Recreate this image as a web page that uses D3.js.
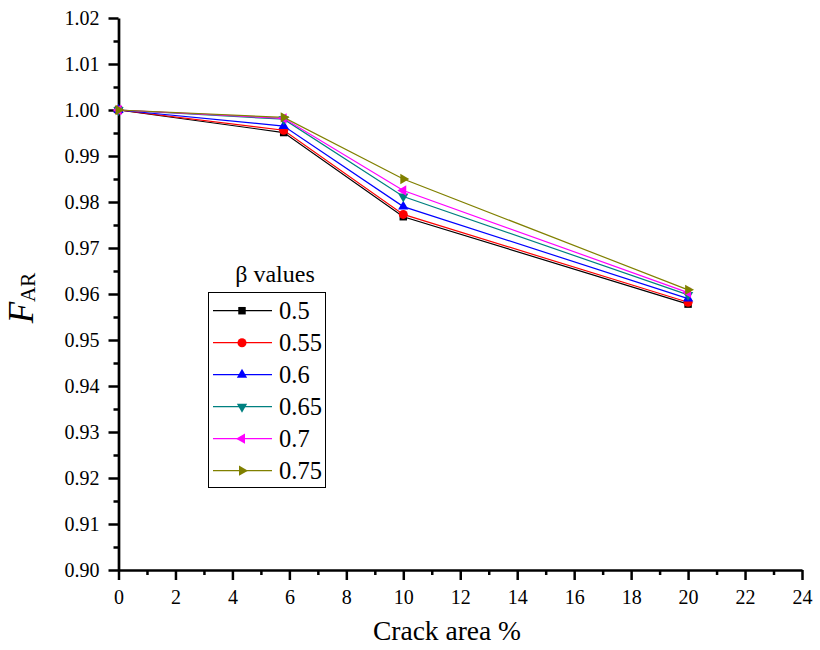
<!DOCTYPE html>
<html>
<head>
<meta charset="utf-8">
<script src="https://cdn.jsdelivr.net/npm/d3@7"></script>
<style>
  body { margin: 0; background: #fff; }
  svg { display: block; }
</style>
</head>
<body>
<svg id="chart" width="820" height="650"></svg>
<script>
// Crack area (%) sampled along the x axis
const crackArea = [0, 5.8, 10, 20];

// F_AR for each beta value
const beta050 = [1.0, 0.9951, 0.9768, 0.9578];
const beta055 = [1.0, 0.9956, 0.9773, 0.9582];
const beta060 = [1.0, 0.9965, 0.9790, 0.9590];
const beta065 = [1.0, 0.9980, 0.9812, 0.9598];
const beta070 = [1.0, 0.9982, 0.9825, 0.9603];
const beta075 = [1.0, 0.9984, 0.9850, 0.9609];

const betaLabels = ["0.5", "0.55", "0.6", "0.65", "0.7", "0.75"];
const xTicks = [0, 2, 4, 6, 8, 10, 12, 14, 16, 18, 20, 22, 24];
const yTicks = [0.90, 0.91, 0.92, 0.93, 0.94, 0.95, 0.96, 0.97, 0.98, 0.99, 1.00, 1.01, 1.02];

const FONT = '"Liberation Serif"';

const series = [
  { name: betaLabels[0], values: beta050, color: "#000000", symbol: d3.symbolSquare, rot: 0, size: 56 },
  { name: betaLabels[1], values: beta055, color: "#ff0000", symbol: d3.symbolCircle, rot: 0, size: 64 },
  { name: betaLabels[2], values: beta060, color: "#0000ff", symbol: d3.symbolTriangle, rot: 0, size: 46 },
  { name: betaLabels[3], values: beta065, color: "#008080", symbol: d3.symbolTriangle, rot: 180, size: 46 },
  { name: betaLabels[4], values: beta070, color: "#ff00ff", symbol: d3.symbolTriangle, rot: -90, size: 46 },
  { name: betaLabels[5], values: beta075, color: "#808000", symbol: d3.symbolTriangle, rot: 90, size: 46 }
];

const svg = d3.select("#chart");
const plotLeft = 118.5, plotRight = 802, plotTop = 18, plotBottom = 570;

const x = d3.scaleLinear().domain([0, 24]).range([plotLeft, plotRight]);
const y = d3.scaleLinear().domain([0.90, 1.02]).range([plotBottom, plotTop]);

// Minor ticks
const g = svg.append("g");
g.append("g")
  .attr("transform", `translate(0,${plotBottom})`)
  .call(d3.axisBottom(x).tickValues(d3.range(1, 24, 2)).tickSize(5).tickFormat(""))
  .call(a => a.select(".domain").remove())
  .call(a => a.selectAll("line").attr("stroke-width", 2.5));
g.append("g")
  .attr("transform", `translate(${plotLeft},0)`)
  .call(d3.axisLeft(y).tickValues(d3.range(0, 12).map(i => 0.905 + i * 0.01)).tickSize(5).tickFormat(""))
  .call(a => a.select(".domain").remove())
  .call(a => a.selectAll("line").attr("stroke-width", 2.5));

// Major axes
const xAxis = g.append("g")
  .attr("transform", `translate(0,${plotBottom})`)
  .call(d3.axisBottom(x).tickValues(xTicks).tickSize(10).tickSizeOuter(0).tickPadding(10).tickFormat(d3.format("d")));
const yAxis = g.append("g")
  .attr("transform", `translate(${plotLeft},0)`)
  .call(d3.axisLeft(y).tickValues(yTicks).tickSize(10).tickSizeOuter(0).tickPadding(9).tickFormat(d3.format(".2f")));

[xAxis, yAxis].forEach(a => {
  a.attr("font-family", null).attr("font-size", null);
  a.select(".domain").attr("stroke-width", 2.7);
  a.selectAll("line").attr("stroke-width", 2.5);
  a.selectAll("text").style("font-size", "20px").attr("fill", "#000");
});

// Data lines and markers
const line = d3.line().x((d, i) => x(crackArea[i])).y(d => y(d));
series.forEach(s => {
  svg.append("path")
    .attr("d", line(s.values))
    .attr("fill", "none")
    .attr("stroke", s.color)
    .attr("stroke-width", 1.2);
});
series.forEach(s => {
  svg.selectAll(null)
    .data(s.values)
    .join("path")
    .attr("d", d3.symbol().type(s.symbol).size(s.size))
    .attr("transform", (d, i) => `translate(${x(crackArea[i])},${y(d)}) rotate(${s.rot})`)
    .attr("fill", s.color);
});

// Legend
const lg = svg.append("g");
lg.append("text")
  .attr("x", 275).attr("y", 282)
  .attr("text-anchor", "middle")
  .style("font-size", "24px")
  .text("β values");
lg.append("rect")
  .attr("x", 208.5).attr("y", 292.5)
  .attr("width", 117).attr("height", 195)
  .attr("fill", "#fff")
  .attr("stroke", "#000")
  .attr("stroke-width", 1);
series.forEach((s, i) => {
  const cy = 310.7 + i * 32;
  lg.append("line")
    .attr("x1", 213).attr("x2", 272)
    .attr("y1", cy).attr("y2", cy)
    .attr("stroke", s.color).attr("stroke-width", 1.2);
  lg.append("path")
    .attr("d", d3.symbol().type(s.symbol).size(s.size))
    .attr("transform", `translate(242,${cy}) rotate(${s.rot})`)
    .attr("fill", s.color);
  lg.append("text")
    .attr("x", 279).attr("y", cy + 8)
    .style("font-size", "24.5px")
    .text(s.name);
});

// Axis titles
svg.append("text")
  .attr("x", 447).attr("y", 640)
  .attr("text-anchor", "middle")
  .style("font-size", "27.5px")
  .text("Crack area %");

const yl = svg.append("text")
  .attr("transform", "translate(33,298) rotate(-90)")
  .attr("text-anchor", "middle");
yl.append("tspan").style("font-style", "italic").style("font-size", "35px").text("F");
yl.append("tspan").style("font-size", "21px").attr("dy", 2).text("AR");

// Serif face for every label
svg.selectAll("text").style("font-family", FONT);
</script>
</body>
</html>
